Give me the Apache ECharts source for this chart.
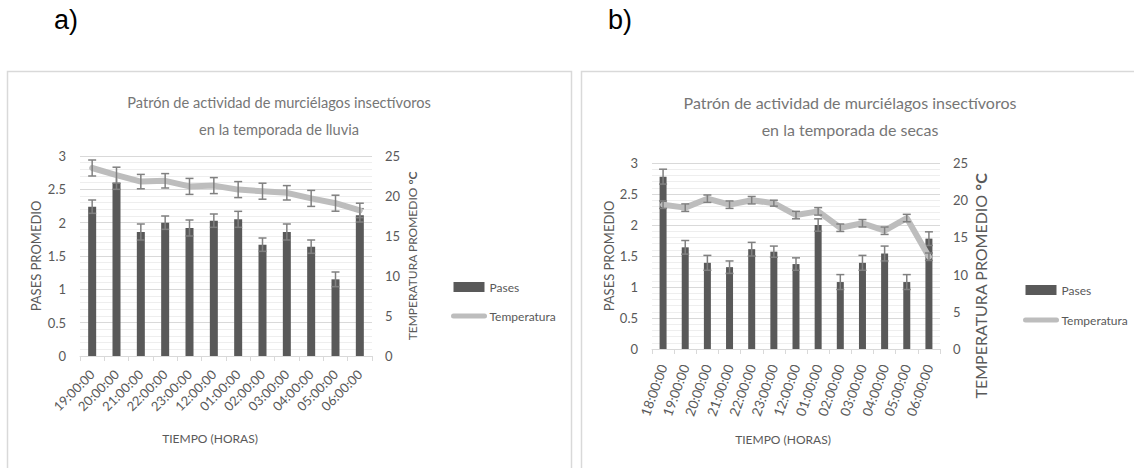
<!DOCTYPE html>
<html>
<head>
<meta charset="utf-8">
<script src="https://cdn.jsdelivr.net/npm/echarts@6/dist/echarts.min.js"></script>
<style>
  html, body { margin: 0; padding: 0; background: #ffffff; }
  #chart { width: 1134px; height: 468px; }
</style>
</head>
<body>
<div id="chart"></div>
<script>
// Temporada de lluvia (a)
const horasLluvia = ['19:00:00','20:00:00','21:00:00','22:00:00','23:00:00','12:00:00','01:00:00','02:00:00','03:00:00','04:00:00','05:00:00','06:00:00'];
const pasesLluvia = [2.24, 2.60, 1.86, 2.00, 1.92, 2.03, 2.05, 1.67, 1.86, 1.64, 1.15, 2.11];
const pasesErrLluvia = [0.10, 0.10, 0.12, 0.10, 0.12, 0.10, 0.12, 0.10, 0.12, 0.10, 0.11, 0.10];
const tempLluvia = [23.5, 22.6, 21.8, 21.9, 21.2, 21.3, 20.8, 20.6, 20.4, 19.7, 19.1, 18.2];
const tempErrLluvia = [1.0, 1.0, 0.9, 0.9, 1.0, 1.0, 1.0, 1.0, 0.9, 1.0, 1.0, 0.9];

// Temporada de secas (b)
const horasSecas = ['18:00:00','19:00:00','20:00:00','21:00:00','22:00:00','23:00:00','12:00:00','01:00:00','02:00:00','03:00:00','04:00:00','05:00:00','06:00:00'];
const pasesSecas = [2.78, 1.64, 1.39, 1.32, 1.61, 1.57, 1.37, 2.00, 1.08, 1.39, 1.54, 1.08, 1.78];
const pasesErrSecas = [0.12, 0.11, 0.12, 0.10, 0.11, 0.09, 0.10, 0.10, 0.12, 0.12, 0.12, 0.12, 0.11];
const tempSecas = [19.4, 19.0, 20.2, 19.4, 20.0, 19.6, 18.0, 18.5, 16.3, 16.9, 15.9, 17.6, 12.4];
const tempErrSecas = [0.5, 0.5, 0.5, 0.5, 0.5, 0.4, 0.5, 0.5, 0.5, 0.5, 0.5, 0.5, 0.5];

const FONT = 'Lato';
const TXT = '#595959';
const BAR = '#595959';
const LINE = '#bdbdbd';
const ERR = '#808080';

function errData(vals, errs) {
  return vals.map((v, i) => [i, v - errs[i], v + errs[i]]);
}

// Error bar: vertical whisker with caps at both ends
function errRender(params, api) {
  const i = api.value(0);
  const top = api.coord([i, api.value(2)]);
  const bot = api.coord([i, api.value(1)]);
  const hw = 4;
  const st = { stroke: ERR, lineWidth: 1.5 };
  return {
    type: 'group',
    children: [
      { type: 'line', shape: { x1: top[0], y1: top[1], x2: bot[0], y2: bot[1] }, style: st },
      { type: 'line', shape: { x1: top[0] - hw, y1: top[1], x2: top[0] + hw, y2: top[1] }, style: st },
      { type: 'line', shape: { x1: bot[0] - hw, y1: bot[1], x2: bot[0] + hw, y2: bot[1] }, style: st }
    ]
  };
}

function catAxis(gridIndex, data, rotate, fontSize, margin, nameGap, namePad) {
  return {
    type: 'category', gridIndex, data,
    boundaryGap: true,
    name: 'TIEMPO (HORAS)', nameLocation: 'middle', nameGap,
    nameTextStyle: { fontFamily: FONT, fontSize: 12, color: TXT, padding: namePad },
    axisLine: { lineStyle: { color: '#d9d9d9', width: 1 } },
    axisTick: { show: true, length: 5, lineStyle: { color: '#d9d9d9' } },
    axisLabel: { rotate, fontFamily: FONT, fontSize, color: TXT, margin, interval: 0 }
  };
}

function leftAxis(gridIndex, nameGap) {
  return {
    type: 'value', gridIndex, min: 0, max: 3, interval: 0.5,
    position: 'left',
    name: 'PASES PROMEDIO', nameLocation: 'middle', nameRotate: 90, nameGap,
    nameTextStyle: { fontFamily: FONT, fontSize: 13, color: TXT },
    axisLine: { show: false }, axisTick: { show: false },
    axisLabel: { fontFamily: FONT, fontSize: 13, color: TXT, margin: 14 },
    splitLine: { show: true, lineStyle: { color: '#d9d9d9', width: 1 } },
    minorTick: { show: false, splitNumber: 5 },
    minorSplitLine: { show: true, lineStyle: { color: '#eeeeee', width: 1 } }
  };
}

function rightAxis(gridIndex, nameGap, fontSize, namePad) {
  return {
    type: 'value', gridIndex, min: 0, max: 25, interval: 5,
    position: 'right',
    name: 'TEMPERATURA PROMEDIO {b|°C}', nameLocation: 'middle', nameRotate: 90, nameGap,
    nameTextStyle: {
      fontFamily: FONT, fontSize, color: TXT, padding: namePad,
      rich: { b: { fontFamily: FONT, fontSize, color: TXT, fontWeight: 'bold' } }
    },
    axisLine: { show: false }, axisTick: { show: false },
    axisLabel: { fontFamily: FONT, fontSize: 13, color: TXT, margin: 13 },
    splitLine: { show: false }
  };
}

function titleOf(text, x, size) {
  return {
    text, left: x, top: 84, textAlign: 'center',
    textStyle: { fontFamily: FONT, fontSize: size, fontWeight: 'normal', color: '#767676', lineHeight: 27 }
  };
}

function legendOf(left, top, gap) {
  return {
    orient: 'vertical', left, top, itemWidth: 31, itemHeight: 10, itemGap: gap,
    textStyle: { fontFamily: FONT, fontSize: 12, color: TXT },
    data: [
      { name: 'Pases', icon: 'rect' },
      { name: 'Temperatura', itemStyle: { opacity: 0 }, lineStyle: { width: 5, cap: 'round', color: LINE } }
    ]
  };
}

const chart = echarts.init(document.getElementById('chart'), null, { renderer: 'svg' });

chart.setOption({
  animation: false,
  backgroundColor: '#ffffff',
  title: [
    titleOf('Patrón de actividad de murciélagos insectívoros\nen la temporada de lluvia', 274, 14.6),
    titleOf('Patrón de actividad de murciélagos insectívoros\nen la temporada de secas', 845, 16)
  ],
  legend: [legendOf(446, 276, 17), legendOf(1018, 279, 18)],
  grid: [
    { left: 80, top: 156, width: 292, height: 200 },
    { left: 652, top: 163, width: 288, height: 186 }
  ],
  xAxis: [
    catAxis(0, horasLluvia, 45, 13, 16, 76, [0, 32, 0, 0]),
    catAxis(1, horasSecas, 70, 13.5, 16, 84, [0, 26, 0, 0])
  ],
  yAxis: [
    leftAxis(0, 38),
    rightAxis(0, 34, 12, [0, 0, 0, 0]),
    leftAxis(1, 37),
    rightAxis(1, 32, 16, [0, 60, 0, 0])
  ],
  graphic: [
    { type: 'rect', shape: { x: 7.5, y: 71.5, width: 564, height: 420 }, style: { fill: 'none', stroke: '#d9d9d9', lineWidth: 1.5 }, silent: true },
    { type: 'rect', shape: { x: 581.5, y: 71.5, width: 600, height: 420 }, style: { fill: 'none', stroke: '#d9d9d9', lineWidth: 1.5 }, silent: true },
    { type: 'text', x: 54, y: 6, style: { text: 'a)', font: '27px "Liberation Sans", Arial, sans-serif', fill: '#000000' } },
    { type: 'text', x: 608, y: 6, style: { text: 'b)', font: '27px "Liberation Sans", Arial, sans-serif', fill: '#000000' } }
  ],
  series: [
    // a) lluvia
    { name: 'Pases', type: 'bar', xAxisIndex: 0, yAxisIndex: 0, data: pasesLluvia, barWidth: 8, itemStyle: { color: BAR }, z: 2 },
    { type: 'custom', xAxisIndex: 0, yAxisIndex: 0, renderItem: errRender, data: errData(pasesLluvia, pasesErrLluvia), encode: { x: 0, y: [1, 2] }, z: 3, silent: true },
    { name: 'Temperatura', type: 'line', xAxisIndex: 0, yAxisIndex: 1, data: tempLluvia, symbol: 'none', lineStyle: { color: LINE, width: 6, cap: 'round', join: 'round' }, itemStyle: { color: LINE }, z: 4 },
    { type: 'custom', xAxisIndex: 0, yAxisIndex: 1, renderItem: errRender, data: errData(tempLluvia, tempErrLluvia), encode: { x: 0, y: [1, 2] }, z: 5, silent: true },
    // b) secas
    { name: 'Pases', type: 'bar', xAxisIndex: 1, yAxisIndex: 2, data: pasesSecas, barWidth: 7, itemStyle: { color: BAR }, z: 2 },
    { type: 'custom', xAxisIndex: 1, yAxisIndex: 2, renderItem: errRender, data: errData(pasesSecas, pasesErrSecas), encode: { x: 0, y: [1, 2] }, z: 3, silent: true },
    { name: 'Temperatura', type: 'line', xAxisIndex: 1, yAxisIndex: 3, data: tempSecas, symbol: 'none', lineStyle: { color: LINE, width: 6, cap: 'round', join: 'round' }, itemStyle: { color: LINE }, z: 4 },
    { type: 'custom', xAxisIndex: 1, yAxisIndex: 3, renderItem: errRender, data: errData(tempSecas, tempErrSecas), encode: { x: 0, y: [1, 2] }, z: 5, silent: true }
  ]
});
</script>
</body>
</html>
